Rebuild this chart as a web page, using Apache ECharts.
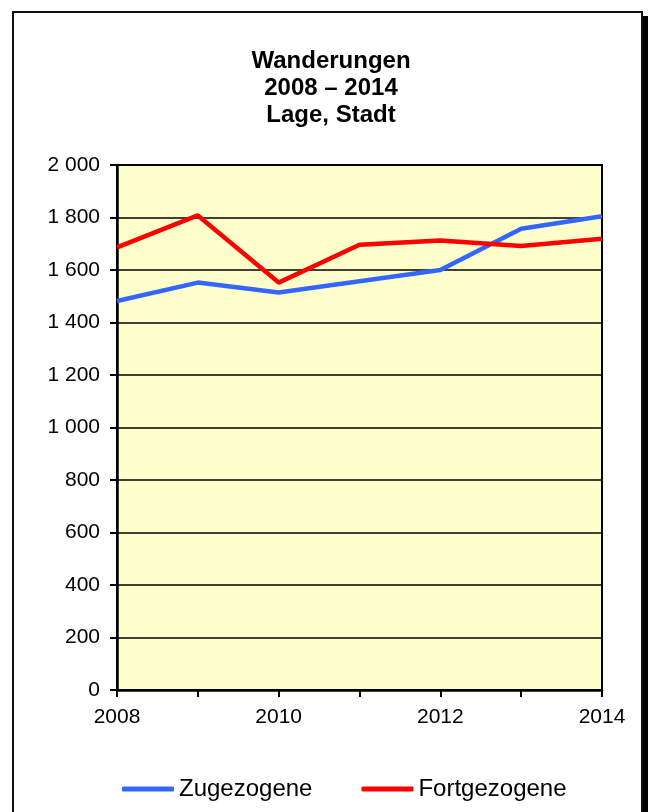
<!DOCTYPE html>
<html>
<head>
<meta charset="utf-8">
<script src="https://cdn.jsdelivr.net/npm/echarts@6/dist/echarts.min.js"></script>
<style>
html,body{margin:0;padding:0;background:#fff;}
#c{width:648px;height:812px;}
</style>
</head>
<body>
<div id="c"></div>
<script>
const years = ['2008','2009','2010','2011','2012','2013','2014'];
const zugezogene = [1482, 1552, 1514, 1557, 1600, 1757, 1805];
const fortgezogene = [1686, 1808, 1552, 1696, 1712, 1691, 1719];
const titleText = 'Wanderungen\n2008 – 2014\nLage, Stadt';
const FONT = '"Liberation Sans", Arial, sans-serif';

const chart = echarts.init(document.getElementById('c'), null, {renderer:'canvas'});
chart.setOption({
  animation:false,
  backgroundColor:'#fff',
  graphic:[
    {type:'rect', shape:{x:643, y:16, width:6, height:820}, style:{fill:'#000'}, z:-10, silent:true},
    {type:'rect', shape:{x:13, y:12, width:629, height:820}, style:{fill:'none', stroke:'#111', lineWidth:2}, z:-10, silent:true}
  ],
  title:{
    text:titleText, left:326, textAlign:'center', top:43,
    textStyle:{fontFamily:FONT, fontSize:24, fontWeight:'bold', color:'#000', lineHeight:27}
  },
  legend:{
    top:777, left:122, padding:0, itemGap:49, itemWidth:52, itemHeight:5,
    icon:'roundRect',
    textStyle:{fontFamily:FONT, fontSize:24, color:'#000', padding:[0,0,0,0]},
    data:['Zugezogene','Fortgezogene']
  },
  grid:{left:117, right:46, top:165, bottom:122, show:true, backgroundColor:'#FFFFCC', borderColor:'#000', borderWidth:2, containLabel:false},
  xAxis:{
    type:'category', data:years, boundaryGap:false,
    axisLine:{lineStyle:{color:'#000', width:2.5}},
    axisTick:{show:true, interval:0, length:7, inside:false, lineStyle:{color:'#000', width:2}},
    axisLabel:{interval:1, color:'#000', fontFamily:FONT, fontSize:21, margin:17},
    splitLine:{show:false}
  },
  yAxis:{
    type:'value', min:0, max:2000, interval:200,
    axisLine:{show:true, lineStyle:{color:'#000', width:2.5}},
    axisTick:{show:true, length:7, lineStyle:{color:'#000', width:2}},
    axisLabel:{color:'#000', fontFamily:FONT, fontSize:21, margin:17,
      formatter:v=>String(v).replace(/\B(?=(\d{3})+(?!\d))/g,' ')},
    splitLine:{show:true, lineStyle:{color:'#000', width:1.5}}
  },
  series:[
    {name:'Zugezogene', type:'line', data:zugezogene, symbol:'none', color:'#3366FF', lineStyle:{width:4.5, color:'#3366FF'}, z:3},
    {name:'Fortgezogene', type:'line', data:fortgezogene, symbol:'none', color:'#FF0000', lineStyle:{width:4.5, color:'#FF0000'}, z:4}
  ]
});
</script>
</body>
</html>
